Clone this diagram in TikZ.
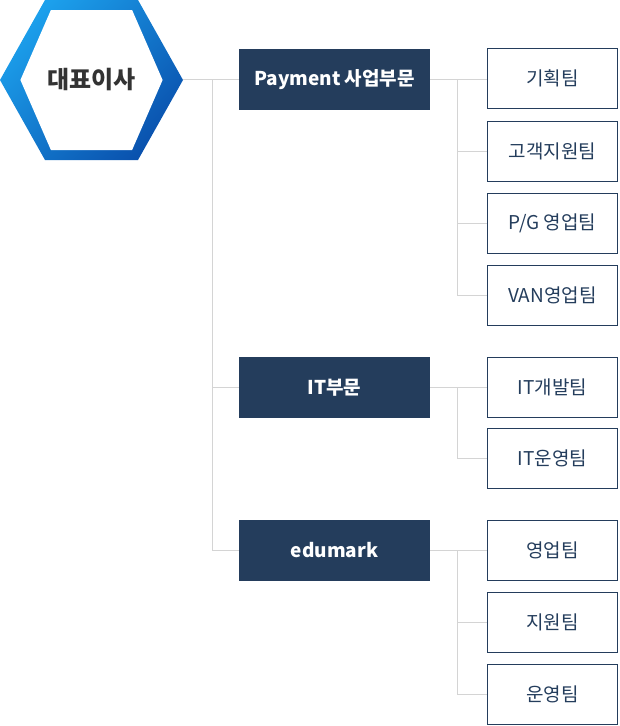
\documentclass[tikz,border=0pt]{standalone}
\usepackage{fontspec}
\setmainfont{Noto Sans CJK KR}
\usetikzlibrary{calc}
\definecolor{navy}{HTML}{243D5C}
\definecolor{hexA}{HTML}{1CA0EC}
\definecolor{hexB}{HTML}{0A52AE}
\definecolor{linegray}{HTML}{D4D4D4}
\definecolor{ceotext}{HTML}{333333}
\tikzset{
  dept/.style={fill=navy, draw=none, minimum width=191pt, minimum height=61pt, inner sep=0pt,
    text=white, font=\fontsize{19}{21}\selectfont\bfseries},
  team/.style={fill=white, draw=navy, line width=1pt, minimum width=130pt, minimum height=60pt, inner sep=0pt,
    text=navy, font=\fontsize{19}{21}\selectfont},
  conn/.style={draw=linegray, line width=1pt},
}
\begin{document}
\begin{tikzpicture}[x=1pt,y=-1pt]
\useasboundingbox (0,0) rectangle (619,726);
% hexagon
\shade[left color=hexA, right color=hexB, shading angle=45]
  (0,80) -- (45,0) -- (138,0) -- (183,80) -- (138,160) -- (45,160) -- cycle;
\fill[white] (20.4,80) -- (50.9,10) -- (132.1,10) -- (162.6,80) -- (132.1,150) -- (50.9,150) -- cycle;
\node[minimum width=183pt, minimum height=160pt, inner sep=0pt, text=ceotext,
  font=\fontsize{24}{27}\selectfont\bfseries] (ceo) at (91.5,80) {대표이사};

% departments
\node[dept] (pay) at (334.5,79.5) {Payment 사업부문};
\node[dept] (it) at (334.5,387.5) {IT부문};
\node[dept] (edu) at (334.5,550.5) {edumark};

% teams
\node[team] (t1) at (552.5,78.5) {기획팀};
\node[team] (t2) at (552.5,151.5) {고객지원팀};
\node[team] (t3) at (552.5,223.5) {P/G 영업팀};
\node[team] (t4) at (552.5,295.5) {VAN영업팀};
\node[team] (t5) at (552.5,387.5) {IT개발팀};
\node[team] (t6) at (552.5,458.5) {IT운영팀};
\node[team] (t7) at (552.5,550.5) {영업팀};
\node[team] (t8) at (552.5,622.5) {지원팀};
\node[team] (t9) at (552.5,694.5) {운영팀};

% main trunk
\coordinate (j0) at (212,79.5);
\draw[conn] (ceo.east |- j0) -- (pay.west);
\draw[conn] (j0) -- (j0 |- edu.west) -- (edu.west);
\draw[conn] (j0 |- it.west) -- (it.west);

% payment branch
\coordinate (j1) at (457,79.5);
\draw[conn] (pay.east) -- (t1.west |- pay.east);
\draw[conn] (j1) -- (j1 |- t4.west) -- (t4.west);
\draw[conn] (j1 |- t2.west) -- (t2.west);
\draw[conn] (j1 |- t3.west) -- (t3.west);

% IT branch
\coordinate (j2) at (457,387.5);
\draw[conn] (it.east) -- (t5.west);
\draw[conn] (j2) -- (j2 |- t6.west) -- (t6.west);

% edumark branch
\coordinate (j3) at (457,550.5);
\draw[conn] (edu.east) -- (t7.west);
\draw[conn] (j3) -- (j3 |- t9.west) -- (t9.west);
\draw[conn] (j3 |- t8.west) -- (t8.west);
\end{tikzpicture}
\end{document}
